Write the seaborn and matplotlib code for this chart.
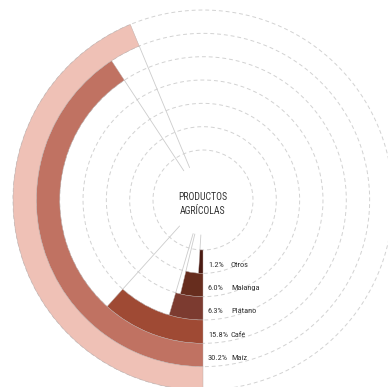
import numpy as np
import pandas as pd
import matplotlib
matplotlib.use("Agg")
import matplotlib.pyplot as plt
from matplotlib import font_manager
import seaborn as sns

# rings from inside to outside; the outer pink ring has no label
productos = ["Otros", "Malanga", "Plátano", "Café", "Maíz", "Total"]
porcentajes = ["1.2%", "6.0%", "6.3%", "15.8%", "30.2%", ""]
arco_grados = [3.5, 13.5, 16.4, 42.0, 146.7, 157.5]
colores = ["#4a1a12", "#672d1e", "#7c3b30", "#9f4a34", "#c07262", "#efc1b6"]

df = pd.DataFrame({"producto": productos, "arco": np.deg2rad(arco_grados)})

sns.set_theme(style="white")

# look for a narrow font, the reference uses a condensed one
narrow = None
for fam in ["Liberation Sans Narrow", "Roboto Condensed", "Open Sans Condensed",
            "DejaVu Sans Condensed", "Noto Sans Condensed"]:
    try:
        font_manager.findfont(font_manager.FontProperties(family=fam),
                              fallback_to_default=False)
        narrow = fam
        break
    except ValueError:
        pass
if narrow:
    plt.rcParams["font.family"] = [narrow, "DejaVu Sans"]
    fs_center, fs_lab, stretch = 7.0, 6.0, "normal"
else:
    plt.rcParams["font.family"] = ["DejaVu Sans"]
    fs_center, fs_lab, stretch = 6.3, 5.2, "condensed"

# layout in pixels
W, H = 388, 387
cx, cy = 203, 200
unit = 23.33          # ring width
ymin = -0.5 - 50 / unit
ymax = 5.58
R = (ymax - ymin) * unit

fig = plt.figure(figsize=(W / 100, H / 100), dpi=100)
ax = fig.add_axes([(cx - R) / W, (H - cy - R) / H, 2 * R / W, 2 * R / H], projection="polar")

# dashed rings
t = np.linspace(0, 2 * np.pi, 400)
for k in range(len(productos) + 1):
    ax.plot(t, np.full_like(t, k - 0.5), color="#d2d2d2", lw=0.7,
            dashes=(4, 3), zorder=1)

sns.barplot(data=df, x="arco", y="producto", hue="producto", palette=colores,
            orient="h", width=1, saturation=1, errorbar=None, legend=False,
            edgecolor="#b9a9a6", linewidth=0.3, ax=ax, zorder=2)

# thin radial lines at bar ends
r0 = ymin + 35 / unit
for i, a in enumerate(df["arco"]):
    ax.plot([a, a], [r0, i - 0.5], color="#cccccc", lw=0.6, zorder=1)

ax.set_theta_zero_location("S")
ax.set_theta_direction(-1)
ax.set_thetalim(0, 2 * np.pi)
ax.set_ylim(ymin, ymax)
ax.set_xticks([])
ax.set_yticks([])
ax.set_xlabel("")
ax.set_ylabel("")
ax.grid(False)
ax.spines["polar"].set_visible(False)

ax.annotate("PRODUCTOS\nAGRÍCOLAS", xy=(0, ymin), xytext=(0, -4),
            textcoords="offset pixels", ha="center", va="center",
            fontsize=fs_center, fontstretch=stretch, color="#333333",
            linespacing=1.4)

for i, (p, n) in enumerate(zip(porcentajes, productos)):
    if not p:
        continue
    ax.annotate(p, xy=(0, i), xytext=(5, -3), textcoords="offset pixels",
                ha="left", va="center", fontsize=fs_lab, fontstretch=stretch,
                color="#333333")
    ax.annotate(n, xy=(0, i), xytext=(28, -3), textcoords="offset pixels",
                ha="left", va="center", fontsize=fs_lab, fontstretch=stretch,
                color="#333333")

fig.savefig("out.png", dpi=100)
